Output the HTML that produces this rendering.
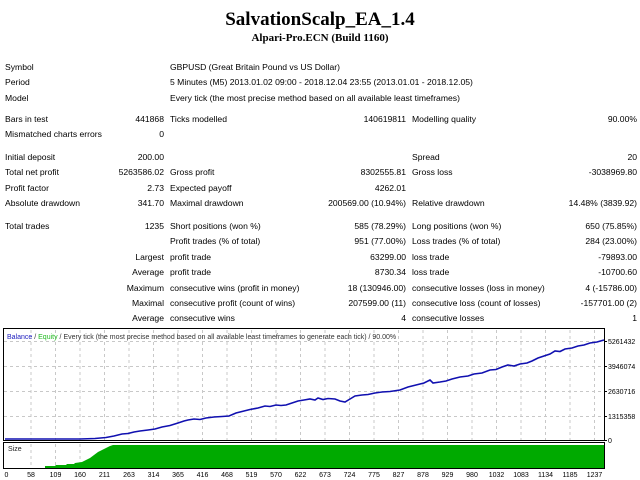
<!DOCTYPE html>
<html><head><meta charset="utf-8"><style>
body{margin:0;width:640px;height:480px;background:#fff;position:relative;overflow:hidden;font-family:"Liberation Sans",sans-serif;font-size:8.6px;color:#000}
.t{position:absolute;white-space:nowrap;line-height:10px}
.r{text-align:right}
</style></head><body>
<div class="t" style="left:0;width:640px;text-align:center;top:9px;font-family:'Liberation Serif',serif;font-weight:bold;font-size:19px;line-height:22px">SalvationScalp_EA_1.4</div>
<div class="t" style="left:0;width:640px;text-align:center;top:32px;font-family:'Liberation Serif',serif;font-weight:bold;font-size:11px;line-height:13px">Alpari-Pro.ECN (Build 1160)</div>

<div class="t" style="left:5px;top:62px">Symbol</div>
<div class="t" style="left:170px;top:62px">GBPUSD (Great Britain Pound vs US Dollar)</div>
<div class="t" style="left:5px;top:77px">Period</div>
<div class="t" style="left:170px;top:77px">5 Minutes (M5) 2013.01.02 09:00 - 2018.12.04 23:55 (2013.01.01 - 2018.12.05)</div>
<div class="t" style="left:5px;top:93px">Model</div>
<div class="t" style="left:170px;top:93px">Every tick (the most precise method based on all available least timeframes)</div>

<div class="t" style="left:5px;top:114px">Bars in test</div>
<div class="t r" style="right:476px;top:114px">441868</div>
<div class="t" style="left:170px;top:114px">Ticks modelled</div>
<div class="t r" style="right:234px;top:114px">140619811</div>
<div class="t" style="left:412px;top:114px">Modelling quality</div>
<div class="t r" style="right:3px;top:114px">90.00%</div>
<div class="t" style="left:5px;top:129px">Mismatched charts errors</div>
<div class="t r" style="right:476px;top:129px">0</div>

<div class="t" style="left:5px;top:152px">Initial deposit</div>
<div class="t r" style="right:476px;top:152px">200.00</div>
<div class="t" style="left:412px;top:152px">Spread</div>
<div class="t r" style="right:3px;top:152px">20</div>
<div class="t" style="left:5px;top:167px">Total net profit</div>
<div class="t r" style="right:476px;top:167px">5263586.02</div>
<div class="t" style="left:170px;top:167px">Gross profit</div>
<div class="t r" style="right:234px;top:167px">8302555.81</div>
<div class="t" style="left:412px;top:167px">Gross loss</div>
<div class="t r" style="right:3px;top:167px">-3038969.80</div>
<div class="t" style="left:5px;top:183px">Profit factor</div>
<div class="t r" style="right:476px;top:183px">2.73</div>
<div class="t" style="left:170px;top:183px">Expected payoff</div>
<div class="t r" style="right:234px;top:183px">4262.01</div>
<div class="t" style="left:5px;top:198px">Absolute drawdown</div>
<div class="t r" style="right:476px;top:198px">341.70</div>
<div class="t" style="left:170px;top:198px">Maximal drawdown</div>
<div class="t r" style="right:234px;top:198px">200569.00 (10.94%)</div>
<div class="t" style="left:412px;top:198px">Relative drawdown</div>
<div class="t r" style="right:3px;top:198px">14.48% (3839.92)</div>

<div class="t" style="left:5px;top:221px">Total trades</div>
<div class="t r" style="right:476px;top:221px">1235</div>
<div class="t" style="left:170px;top:221px">Short positions (won %)</div>
<div class="t r" style="right:234px;top:221px">585 (78.29%)</div>
<div class="t" style="left:412px;top:221px">Long positions (won %)</div>
<div class="t r" style="right:3px;top:221px">650 (75.85%)</div>
<div class="t" style="left:170px;top:236px">Profit trades (% of total)</div>
<div class="t r" style="right:234px;top:236px">951 (77.00%)</div>
<div class="t" style="left:412px;top:236px">Loss trades (% of total)</div>
<div class="t r" style="right:3px;top:236px">284 (23.00%)</div>
<div class="t r" style="right:476px;top:252px">Largest</div>
<div class="t" style="left:170px;top:252px">profit trade</div>
<div class="t r" style="right:234px;top:252px">63299.00</div>
<div class="t" style="left:412px;top:252px">loss trade</div>
<div class="t r" style="right:3px;top:252px">-79893.00</div>
<div class="t r" style="right:476px;top:267px">Average</div>
<div class="t" style="left:170px;top:267px">profit trade</div>
<div class="t r" style="right:234px;top:267px">8730.34</div>
<div class="t" style="left:412px;top:267px">loss trade</div>
<div class="t r" style="right:3px;top:267px">-10700.60</div>
<div class="t r" style="right:476px;top:283px">Maximum</div>
<div class="t" style="left:170px;top:283px">consecutive wins (profit in money)</div>
<div class="t r" style="right:234px;top:283px">18 (130946.00)</div>
<div class="t" style="left:412px;top:283px">consecutive losses (loss in money)</div>
<div class="t r" style="right:3px;top:283px">4 (-15786.00)</div>
<div class="t r" style="right:476px;top:298px">Maximal</div>
<div class="t" style="left:170px;top:298px">consecutive profit (count of wins)</div>
<div class="t r" style="right:234px;top:298px">207599.00 (11)</div>
<div class="t" style="left:412px;top:298px">consecutive loss (count of losses)</div>
<div class="t r" style="right:3px;top:298px">-157701.00 (2)</div>
<div class="t r" style="right:476px;top:313px">Average</div>
<div class="t" style="left:170px;top:313px">consecutive wins</div>
<div class="t r" style="right:234px;top:313px">4</div>
<div class="t" style="left:412px;top:313px">consecutive losses</div>
<div class="t r" style="right:3px;top:313px">1</div>

<svg style="position:absolute;left:0;top:0" width="640" height="480" font-family="Liberation Sans, sans-serif" font-size="7">
<g stroke="#c8c8c8" stroke-dasharray="3,3" stroke-width="1">
<path d="M31 330V440M55.5 330V440M80 330V440M104.5 330V440M129 330V440M153.5 330V440M178 330V440M202.5 330V440M227 330V440M251.5 330V440M276 330V440M300.5 330V440M325 330V440M349.5 330V440M374 330V440M398.5 330V440M423 330V440M447.5 330V440M472 330V440M496.5 330V440M521 330V440M545.5 330V440M570 330V440M594.5 330V440"/>
<path d="M31 444V468M55.5 444V468M80 444V468"/>
<path d="M4 341.5H604M4 366.5H604M4 391.5H604M4 416.5H604"/>
</g>
<polygon fill="#00aa00" points="45,468 45,466 55,466 56,465 66,465 67,464 74,464 75,463 82,462 86,460 90,458 94,455 98,452 102,450 106,448 110,446 113,445 604,445 604,468"/>
<polyline fill="none" stroke="#1010b0" stroke-width="1.6" points="5,439 80,439 95,438.5 106,437.5 114,436 122,434 128,433.5 134,432 140,431 148,430 155,429 162,427 170,425.5 178,423 184,421 188,420 194,419 200,419.5 206,418 214,417 222,416.5 229,416 236,413 244,411 250,409.5 258,408 265,406 270,406.5 276,405 281,405.5 286,405 292,403 298,401 304,400 310,399 315,400 318,398 323,399.5 328,398.5 335,399 340,401 345,402 350,399 355,396 362,395 368,394.5 375,393 382,392 390,391.5 400,390 408,387 416,385 424,383 430,380 433,383 440,382 446,381 452,379 460,377 468,376 474,374 482,373 490,370 496,369.5 502,367 508,365 514,366 520,364 527,363 532,361 538,358 544,356 550,354 555,351 560,351.5 565,349 572,348 578,346 584,345 590,343 597,342 604,340"/>
<rect x="3.5" y="328.5" width="601" height="112" fill="none" stroke="#000"/>
<rect x="3.5" y="442.5" width="601" height="26" fill="none" stroke="#000"/>
<path d="M604 341.5h3M604 366.5h3M604 391.5h3M604 416.5h3M604 440.5h3" stroke="#000"/>
<text x="7" y="339"><tspan fill="#2020c0">Balance</tspan><tspan fill="#333"> / </tspan><tspan fill="#22bb22">Equity</tspan><tspan fill="#333"> / Every tick (the most precise method based on all available least timeframes to generate each tick) / 90.00%</tspan></text>
<text x="8" y="451" fill="#222">Size</text>
<g fill="#000">
<text x="608" y="344">5261432</text><text x="608" y="369">3946074</text><text x="608" y="394">2630716</text><text x="608" y="419">1315358</text><text x="608" y="443">0</text>
</g>
<g fill="#000" text-anchor="middle">
<text x="6.5" y="477">0</text><text x="31" y="477">58</text><text x="55.5" y="477">109</text><text x="80" y="477">160</text><text x="104.5" y="477">211</text><text x="129" y="477">263</text><text x="153.5" y="477">314</text><text x="178" y="477">365</text><text x="202.5" y="477">416</text><text x="227" y="477">468</text><text x="251.5" y="477">519</text><text x="276" y="477">570</text><text x="300.5" y="477">622</text><text x="325" y="477">673</text><text x="349.5" y="477">724</text><text x="374" y="477">775</text><text x="398.5" y="477">827</text><text x="423" y="477">878</text><text x="447.5" y="477">929</text><text x="472" y="477">980</text><text x="496.5" y="477">1032</text><text x="521" y="477">1083</text><text x="545.5" y="477">1134</text><text x="570" y="477">1185</text><text x="594.5" y="477">1237</text>
</g>
</svg>
</body></html>
